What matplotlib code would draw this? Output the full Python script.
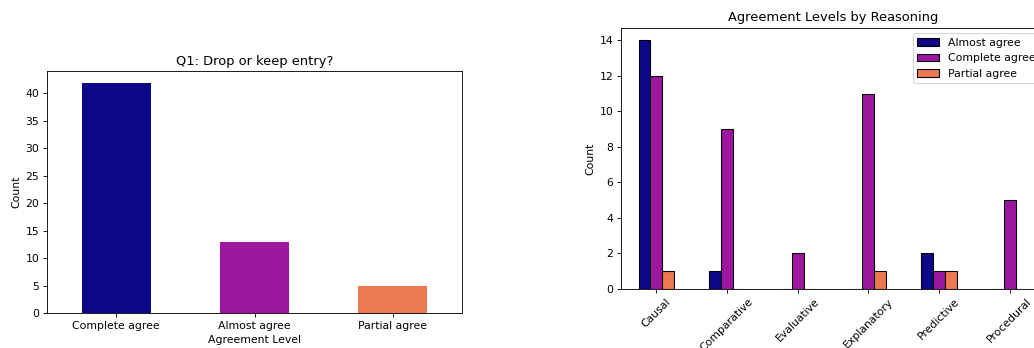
import numpy as np
import matplotlib.pyplot as plt

# left chart
levels = ["Complete agree", "Almost agree", "Partial agree"]
level_counts = [42, 13, 5]

# right chart
reasoning = ["Causal", "Comparative", "Evaluative", "Explanatory", "Predictive", "Procedural"]
series_names = ["Almost agree", "Complete agree", "Partial agree"]
almost = [14, 1, 0, 0, 2, 0]
complete = [12, 9, 2, 11, 1, 5]
partial = [1, 0, 0, 1, 1, 0]

cmap = plt.get_cmap("plasma")
colors = [cmap(0.0), cmap(1 / 3), cmap(2 / 3)]

DPI = 78
fig = plt.figure(figsize=(1034 / DPI, 348 / DPI), dpi=DPI)

ax1 = fig.add_axes([47 / 1034, 1 - 313 / 348, (462 - 47) / 1034, (313 - 71) / 348])
x1 = np.arange(len(levels))
ax1.bar(x1, level_counts, width=0.5, color=colors)
ax1.set_xlim(-0.5, len(levels) - 0.5)
ax1.set_xticks(x1)
ax1.set_xticklabels(levels)
ax1.set_title("Q1: Drop or keep entry?")
ax1.set_xlabel("Agreement Level")
ax1.set_ylabel("Count")

ax2 = fig.add_axes([621 / 1034, 1 - 289 / 348, 424 / 1034, (289 - 28) / 348])
x2 = np.arange(len(reasoning))
w = 0.5 / 3
for i, (name, vals) in enumerate(zip(series_names, [almost, complete, partial])):
    ax2.bar(x2 + (i - 1) * w, vals, width=w, color=colors[i], edgecolor="black", label=name)
ax2.set_xlim(-0.5, len(reasoning) - 0.5)
ax2.set_xticks(x2)
ax2.set_xticklabels(reasoning, rotation=45)
ax2.set_title("Agreement Levels by Reasoning")
ax2.set_ylabel("Count")
ax2.legend(loc="upper right")

fig.savefig("out.png", dpi=DPI)
